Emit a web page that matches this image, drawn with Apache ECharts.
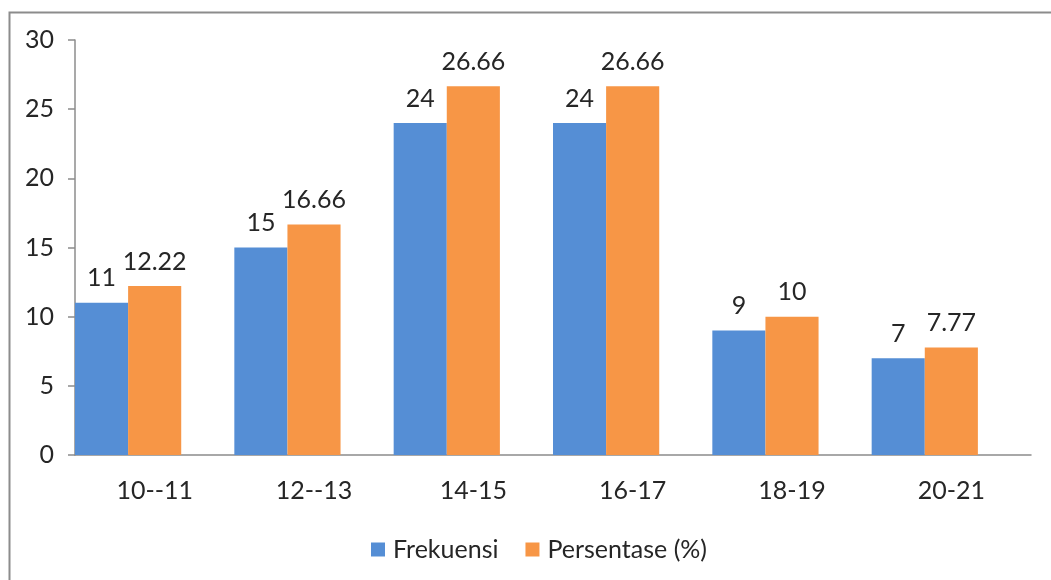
<!DOCTYPE html>
<html>
<head>
<meta charset="utf-8">
<script src="https://cdn.jsdelivr.net/npm/echarts@6/dist/echarts.min.js"></script>
<style>html,body{margin:0;padding:0;background:#fff;}#c{width:1051px;height:580px;}</style>
</head>
<body>
<div id="c"></div>
<script>
const categories = ['10--11', '12--13', '14-15', '16-17', '18-19', '20-21'];
const frekuensi = [11, 15, 24, 24, 9, 7];
const persentase = [12.22, 16.66, 26.66, 26.66, 10, 7.77];
const yTicks = { min: 0, max: 30, interval: 5 };

const chart = echarts.init(document.getElementById('c'));
const font = 'Lato, "Open Sans", sans-serif';
const fs = 25;
const labelStyle = { show: true, position: 'top', distance: 12, color: '#262626', fontSize: fs, fontFamily: font };
chart.setOption({
  animation: false,
  graphic: [{
    type: 'rect', left: 7, top: 10, shape: { width: 1100, height: 620 },
    style: { fill: 'none', stroke: '#8c8c8c', lineWidth: 2 }, silent: true
  }],
  grid: { left: 75, right: 20, top: 40, bottom: 125 },
  legend: {
    data: ['Frekuensi', 'Persentase (%)'],
    left: 366, top: 532, itemWidth: 14, itemHeight: 14, itemGap: 27,
    icon: 'rect',
    textStyle: { fontSize: fs, color: '#262626', fontFamily: font, padding: [0, 0, 0, 3] }
  },
  xAxis: {
    type: 'category', data: categories,
    axisLine: { lineStyle: { color: '#8c8c8c', width: 1.5 } },
    axisTick: { show: false },
    axisLabel: { fontSize: fs, color: '#262626', fontFamily: font, margin: 23 }
  },
  yAxis: {
    type: 'value', min: yTicks.min, max: yTicks.max, interval: yTicks.interval,
    axisLine: { show: true, lineStyle: { color: '#8c8c8c', width: 1.5 } },
    axisTick: { show: true, length: 7, lineStyle: { color: '#8c8c8c', width: 1.5 } },
    splitLine: { show: false },
    axisLabel: { fontSize: fs, color: '#262626', fontFamily: font, margin: 21 }
  },
  series: [
    { name: 'Frekuensi', type: 'bar', data: frekuensi, barGap: '0%', barCategoryGap: '0%',
      itemStyle: { color: '#558ed5' }, label: labelStyle },
    { name: 'Persentase (%)', type: 'bar', data: persentase,
      itemStyle: { color: '#f79646' }, label: labelStyle },
    { name: '', type: 'bar', data: categories.map(() => null), silent: true }
  ]
});
</script>
</body>
</html>
